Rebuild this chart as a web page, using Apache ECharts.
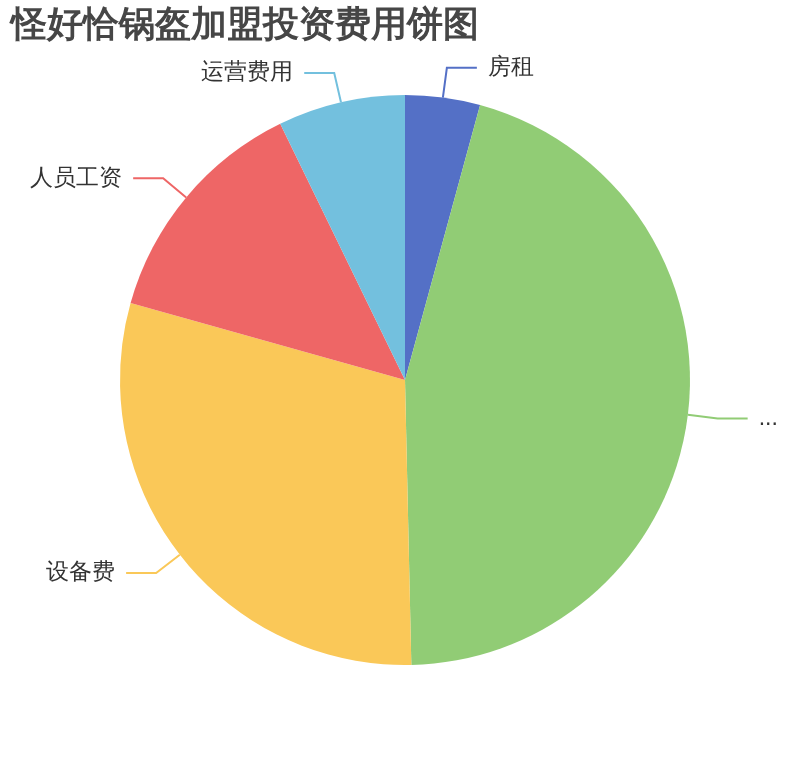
<!DOCTYPE html>
<html>
<head>
<meta charset="utf-8">
<title>怪好恰锅盔加盟投资费用饼图</title>
<script src="https://cdn.jsdelivr.net/npm/echarts@6/dist/echarts.min.js"></script>
<style>
  html, body { margin: 0; padding: 0; background: #fff; }
  #main { width: 810px; height: 760px; }
</style>
</head>
<body>
<div id="main"></div>
<script>
// 数据
var names = ['房租', '加盟费', '设备费', '人员工资', '运营费用'];
var values = [3, 32.1, 21, 9.5, 5.1];
var colors = ['#5470c6', '#91cc75', '#fac858', '#ee6666', '#73c0de'];

var myChart = echarts.init(document.getElementById('main'));
var option = {
    title: {
        text: '怪好恰锅盔加盟投资费用饼图',
        left: 6,
        top: 3,
        textStyle: {
            fontSize: 36,
            fontWeight: 'bold',
            color: '#464646'
        }
    },
    color: colors,
    series: [
        {
            name: '费用',
            type: 'pie',
            radius: '75%',
            center: ['50%', '50%'],
            startAngle: 90,
            label: {
                fontSize: 23,
                color: '#333',
                distanceToLabelLine: 11
            },
            labelLine: {
                length: 30,
                length2: 30,
                lineStyle: { width: 2 }
            },
            data: names.map(function (n, i) {
                return { name: n, value: values[i] };
            })
        }
    ]
};
myChart.setOption(option);
</script>
</body>
</html>
